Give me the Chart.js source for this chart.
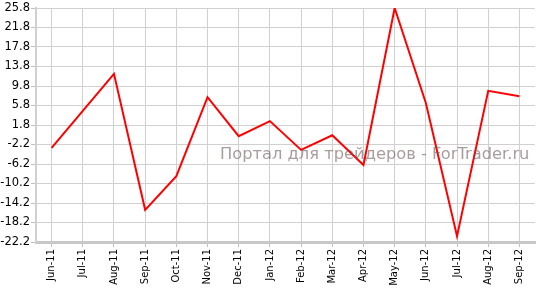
<!DOCTYPE html>
<html>
<head>
<meta charset="utf-8">
<script src="https://cdn.jsdelivr.net/npm/chart.js@4/dist/chart.umd.min.js"></script>
<style>
  html, body { margin: 0; padding: 0; background: #fff; }
  #wrap { position: relative; width: 536px; height: 288px; }
  #watermark {
    position: absolute; left: 220px; top: 144px;
    font: 16.3px "DejaVu Sans", Verdana, sans-serif;
    color: rgba(110, 90, 90, 0.6); white-space: nowrap; pointer-events: none;
  }
</style>
</head>
<body>
<div id="wrap">
  <canvas id="chart" width="536" height="288"></canvas>
  <div id="watermark">Портал для трейдеров - ForTrader.ru</div>
</div>
<script>
/* ------------ DATA ------------ */
const months = ['Jun-11', 'Jul-11', 'Aug-11', 'Sep-11', 'Oct-11', 'Nov-11', 'Dec-11', 'Jan-12',
                'Feb-12', 'Mar-12', 'Apr-12', 'May-12', 'Jun-12', 'Jul-12', 'Aug-12', 'Sep-12'];
const values = [-2.9, 4.7, 12.3, -15.6, -8.7, 7.5, -0.5, 2.6,
                -3.3, -0.3, -6.4, 25.8, 6.3, -21.0, 8.8, 7.7];
const yMin = -22.2;
const yMax = 25.8;
const yStep = 4;

/* ------------ CHART ------------ */
const ctx = document.getElementById('chart').getContext('2d');
new Chart(ctx, {
  type: 'line',
  data: {
    labels: months,
    datasets: [{
      data: values,
      borderColor: '#ff0000',
      borderWidth: 2,
      pointRadius: 0,
      tension: 0,
      fill: false
    }]
  },
  options: {
    responsive: false,
    animation: false,
    layout: { padding: { top: 8, right: 1 } },
    plugins: { legend: { display: false }, tooltip: { enabled: false } },
    scales: {
      x: {
        offset: true,
        grid: { offset: false, color: '#d0d0d0', lineWidth: 1, tickLength: 5, tickColor: '#c0c0c0' },
        border: { color: '#c8c8c8', width: 3 },
        ticks: {
          maxRotation: 90, minRotation: 90, autoSkip: false, padding: 2,
          color: '#000', font: { family: 'DejaVu Sans', size: 10 }
        },
        afterFit: s => { s.height = 46; }
      },
      y: {
        min: yMin, max: yMax,
        grid: { color: '#d0d0d0', lineWidth: 1, tickLength: 5, tickColor: '#c0c0c0' },
        border: { color: '#d0d0d0', width: 2 },
        ticks: {
          stepSize: yStep, padding: 1, color: '#000',
          font: { family: 'DejaVu Sans', size: 11.5 },
          callback: v => v.toFixed(1)
        },
        afterFit: s => { s.width = 36; }
      }
    }
  }
});
</script>
</body>
</html>
